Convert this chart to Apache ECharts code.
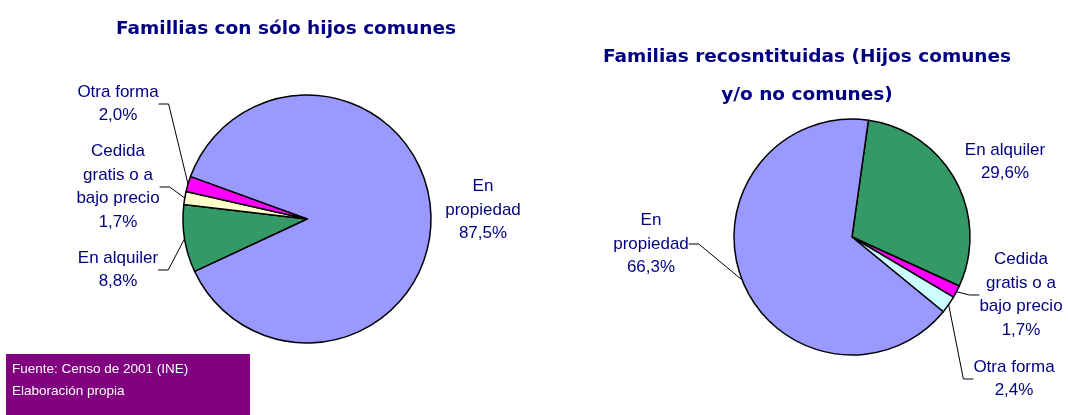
<!DOCTYPE html>
<html>
<head>
<meta charset="utf-8">
<script src="https://cdn.jsdelivr.net/npm/echarts@6/dist/echarts.min.js"></script>
<style>
  html, body { margin: 0; padding: 0; background: #fff; }
  #chart { width: 1068px; height: 415px; }
</style>
</head>
<body>
<div id="chart"></div>
<script>
  // datos
  const leftNames = ['En\npropiedad', 'En alquiler', 'Cedida\ngratis o a\nbajo precio', 'Otra forma']
  const leftValues = [87.5, 8.8, 1.7, 2.0]
  const rightNames = ['En alquiler', 'Cedida\ngratis o a\nbajo precio', 'Otra forma', 'En\npropiedad']
  const rightValues = [29.6, 1.7, 2.4, 66.3]

  const leftColors = ['#9999FF', '#339966', '#FFFFCC', '#FF00FF']
  const rightColors = ['#339966', '#FF00FF', '#CCFFFF', '#9999FF']

  // posiciones de las etiquetas (centro del texto)
  const leftLabelPos = [[483, 210], [118, 270], [118, 187], [118, 104]]
  const rightLabelPos = [[1005, 162], [1021, 295], [1014, 379], [651, 244]]
  const leftLines = [false, true, true, true]
  const rightLines = [false, true, true, true]

  const navy = '#000080'
  const pct = v => v.toFixed(1).replace('.', ',') + '%'

  const buildData = (names, values, colors, lines) => names.map((n, i) => ({
    name: n,
    value: values[i],
    itemStyle: { color: colors[i] },
    labelLine: { show: lines[i] }
  }))

  const pieSeries = (center, radius, startAngle, data, pos) => ({
    type: 'pie',
    center: center,
    radius: radius,
    startAngle: startAngle,
    clockwise: true,
    animation: false,
    silent: true,
    itemStyle: { borderColor: '#000', borderWidth: 1.5 },
    label: {
      show: true,
      position: 'outside',
      color: navy,
      fontFamily: 'Liberation Sans, Arial, sans-serif',
      fontSize: 17,
      lineHeight: 23.5,
      align: 'center',
      overflow: 'none',
      formatter: p => p.name + '\n' + pct(p.value)
    },
    labelLine: { show: true, length: 10, length2: 10, lineStyle: { color: '#000', width: 1 } },
    labelLayout: p => ({
      x: pos[p.dataIndex][0],
      y: pos[p.dataIndex][1],
      align: 'center',
      verticalAlign: 'middle'
    }),
    data: data
  })

  const titleFont = { color: navy, fontFamily: "'Comic Sans MS', 'DejaVu Sans', sans-serif", fontWeight: 'bold', fontSize: 18.5 }

  const chart = echarts.init(document.getElementById('chart'))
  chart.setOption({
    backgroundColor: '#fff',
    title: [
      {
        text: 'Famillias con sólo hijos comunes',
        left: 281, top: 12,
        textAlign: 'center',
        textStyle: Object.assign({ lineHeight: 24 }, titleFont)
      },
      {
        text: 'Familias recosntituidas (Hijos comunes\ny/o no comunes)',
        left: 802, top: 33,
        textAlign: 'center',
        textStyle: Object.assign({ lineHeight: 38 }, titleFont)
      }
    ],
    graphic: [
      { type: 'rect', shape: { x: 6, y: 354, width: 244, height: 61 }, style: { fill: '#800080' } },
      {
        type: 'text', x: 12, y: 358,
        style: { text: 'Fuente: Censo de 2001 (INE)\nElaboración propia', fill: '#fff', font: '13.5px Liberation Sans, Arial, sans-serif', lineHeight: 22 }
      }
    ],
    series: [
      pieSeries([307, 219], 124, 160, buildData(leftNames, leftValues, leftColors, leftLines), leftLabelPos),
      pieSeries([852, 237], 118, 82, buildData(rightNames, rightValues, rightColors, rightLines), rightLabelPos)
    ]
  })
</script>
</body>
</html>
